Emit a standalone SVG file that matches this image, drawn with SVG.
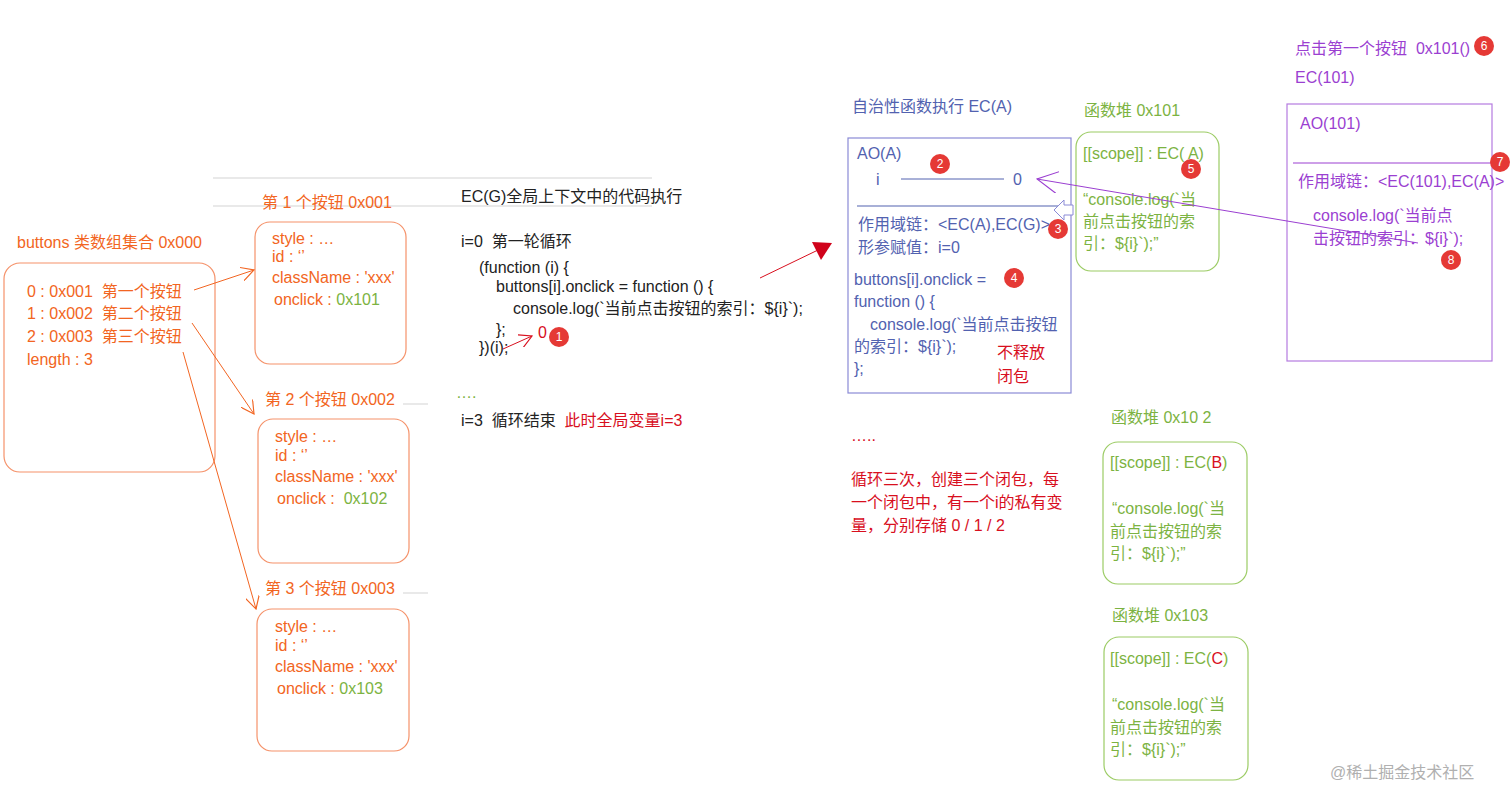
<svg xmlns="http://www.w3.org/2000/svg" width="1512" height="802" viewBox="0 0 1512 802">
<style>
text{font-family:"Liberation Sans","Noto Sans CJK SC",sans-serif;font-size:16px;white-space:pre}
.or{fill:#f26522}
.gr{fill:#7cb342}
.bl{fill:#5262b0}
.pu{fill:#9b3fd1}
.rd{fill:#d80f1e}
.bk{fill:#222}
.obox{fill:none;stroke:#f5926a;stroke-width:1.2}
.gbox{fill:none;stroke:#9ccc65;stroke-width:1.2}
.badge circle{fill:#e53935}
.badge text{fill:#fff;font-size:12px;text-anchor:middle}
.ol{stroke:#f26522;stroke-width:1;fill:none}
</style>
<defs>
<marker id="oa" viewBox="0 0 12 12" refX="11" refY="6" markerWidth="14" markerHeight="14" markerUnits="userSpaceOnUse" orient="auto"><path d="M0,0 L11,6 L0,12" fill="none" stroke="#f26522" stroke-width="1"/></marker>
<marker id="ra" viewBox="0 0 12 12" refX="11" refY="6" markerWidth="14" markerHeight="14" markerUnits="userSpaceOnUse" orient="auto"><path d="M0,0 L11,6 L0,12" fill="none" stroke="#d80f1e" stroke-width="1"/></marker>
<marker id="pa" viewBox="0 0 20 20" refX="19" refY="10" markerWidth="22" markerHeight="22" markerUnits="userSpaceOnUse" orient="auto"><path d="M0,0 L19,10 L0,20" fill="none" stroke="#9b3fd1" stroke-width="1"/></marker>
</defs>
<rect width="1512" height="802" fill="#fff"/>

<g id="guides" stroke="#e2e2e2" stroke-width="1.5">
<line x1="213" y1="178" x2="652" y2="178"/>
<line x1="213" y1="206" x2="652" y2="206"/>
<line x1="403" y1="404" x2="428" y2="404"/>
<line x1="403" y1="593" x2="428" y2="593"/>
</g>

<g id="buttons">
<text x="17" y="248" class="or">buttons 类数组集合 0x000</text>
<rect x="4" y="263" width="211" height="209" rx="16" class="obox"/>
<text x="27" y="297" class="or">0 : 0x001  第一个按钮</text>
<text x="27" y="319" class="or">1 : 0x002  第二个按钮</text>
<text x="27" y="342" class="or">2 : 0x003  第三个按钮</text>
<text x="27" y="365" class="or">length : 3</text>
</g>

<g id="btn1">
<text x="262" y="208" class="or">第 1 个按钮 0x001</text>
<rect x="255" y="222" width="151" height="142" rx="15" class="obox"/>
<text x="272" y="244" class="or">style : …</text>
<text x="272" y="262" class="or">id : ‘’</text>
<text x="272" y="283" class="or">className : 'xxx'</text>
<text x="274" y="305" class="or">onclick : <tspan class="gr">0x101</tspan></text>
</g>

<g id="btn2">
<text x="265" y="405" class="or">第 2 个按钮 0x002</text>
<rect x="258" y="419" width="151" height="144" rx="15" class="obox"/>
<text x="275" y="442" class="or">style : …</text>
<text x="275" y="461" class="or">id : ‘’</text>
<text x="275" y="482" class="or">className : 'xxx'</text>
<text x="277" y="504" class="or">onclick :  <tspan class="gr">0x102</tspan></text>
</g>

<g id="btn3">
<text x="265" y="594" class="or">第 3 个按钮 0x003</text>
<rect x="257" y="609" width="152" height="142" rx="15" class="obox"/>
<text x="275" y="632" class="or">style : …</text>
<text x="275" y="651" class="or">id : ‘’</text>
<text x="275" y="672" class="or">className : 'xxx'</text>
<text x="277" y="694" class="or">onclick : <tspan class="gr">0x103</tspan></text>
</g>

<g id="code">
<text x="461" y="202" class="bk">EC(G)全局上下文中的代码执行</text>
<text x="461" y="247" class="bk">i=0  第一轮循环</text>
<text x="479" y="273" class="bk">(function (i) {</text>
<text x="496" y="292" class="bk">buttons[i].onclick = function () {</text>
<text x="513" y="314" class="bk">console.log(`当前点击按钮的索引：${i}`);</text>
<text x="496" y="335" class="bk">};</text>
<text x="479" y="353" class="bk">})(i);</text>
<text x="538" y="338" class="rd">0</text>
<g class="badge"><circle cx="559" cy="337" r="10"/><text x="559" y="341">1</text></g>
<text x="456" y="398" fill="#7cb342" font-size="13">….</text>
<text x="461" y="426" class="bk">i=3  循环结束  <tspan class="rd">此时全局变量i=3</tspan></text>
</g>

<g id="ecA">
<text x="852" y="112" class="bl">自治性函数执行 EC(A)</text>
<rect x="848" y="138" width="223" height="255" fill="none" stroke="#8a8ad6" stroke-width="1.2"/>
<text x="857" y="159" class="bl">AO(A)</text>
<text x="876" y="185" class="bl">i</text>
<line x1="901" y1="179" x2="1004" y2="179" stroke="#5262b0" stroke-width="1"/>
<text x="1013" y="185" class="bl">0</text>
<g class="badge"><circle cx="940" cy="164" r="10"/><text x="940" y="168">2</text></g>
<line x1="857" y1="206" x2="1071" y2="206" stroke="#5262b0" stroke-width="1.2"/>
<text x="858" y="230" class="bl">作用域链：&lt;EC(A),EC(G)&gt;</text>
<g class="badge"><circle cx="1058" cy="229" r="10"/><text x="1058" y="233">3</text></g>
<text x="858" y="253" class="bl">形参赋值：i=0</text>
<text x="854" y="285" class="bl">buttons[i].onclick =</text>
<g class="badge"><circle cx="1014" cy="278" r="10"/><text x="1014" y="282">4</text></g>
<text x="854" y="307" class="bl">function () {</text>
<text x="870" y="330" class="bl">console.log(`当前点击按钮</text>
<text x="854" y="352" class="bl">的索引：${i}`);</text>
<text x="854" y="374" class="bl">};</text>
<text x="997" y="358" class="rd" font-size="17">不释放</text>
<text x="997" y="382" class="rd" font-size="17">闭包</text>
<polygon points="1054,210 1064,200 1064,205 1073,205 1073,215 1064,215 1064,220" fill="#fff" stroke="#8a8ad6" stroke-width="1"/>
</g>

<g id="heap101">
<text x="1084" y="116" class="gr">函数堆 0x101</text>
<rect x="1076" y="132" width="143" height="139" rx="15" class="gbox"/>
<text x="1083" y="159" class="gr">[[scope]] : EC( A)</text>
<text x="1083" y="205" class="gr">“console.log(`当</text>
<text x="1083" y="227" class="gr">前点击按钮的索</text>
<text x="1083" y="249" class="gr">引：${i}`);”</text>
<g class="badge"><circle cx="1191" cy="169" r="10"/><text x="1191" y="173">5</text></g>
</g>

<g id="ec101">
<text x="1295" y="54" class="pu">点击第一个按钮  0x101()</text>
<g class="badge"><circle cx="1484" cy="46" r="10"/><text x="1484" y="50">6</text></g>
<text x="1295" y="83" class="pu">EC(101)</text>
<rect x="1287" y="104" width="205" height="257" fill="none" stroke="#b57bdf" stroke-width="1.2"/>
<text x="1300" y="129" class="pu">AO(101)</text>
<line x1="1293" y1="163" x2="1492" y2="163" stroke="#9b3fd1" stroke-width="1"/>
<g class="badge"><circle cx="1500" cy="162" r="10"/><text x="1500" y="166">7</text></g>
<text x="1298" y="187" class="pu" font-size="15.6">作用域链：&lt;EC(101),EC(A)&gt;</text>
<text x="1313" y="221" class="pu">console.log(`当前点</text>
<text x="1313" y="244" class="pu">击按钮的索引：${i}`);</text>
<g class="badge"><circle cx="1451" cy="260" r="10"/><text x="1451" y="264">8</text></g>
</g>

<g id="note">
<text x="851" y="441" class="rd" font-size="13">…..</text>
<text x="851" y="485" class="rd">循环三次，创建三个闭包，每</text>
<text x="851" y="508" class="rd">一个闭包中，有一个i的私有变</text>
<text x="851" y="531" class="rd">量，分别存储 0 / 1 / 2</text>
</g>

<g id="heap102">
<text x="1111" y="423" class="gr">函数堆 0x10 2</text>
<rect x="1103" y="442" width="144" height="142" rx="15" class="gbox"/>
<text x="1110" y="468" class="gr">[[scope]] : EC(<tspan class="rd">B</tspan>)</text>
<text x="1112" y="514" class="gr">“console.log(`当</text>
<text x="1110" y="537" class="gr">前点击按钮的索</text>
<text x="1110" y="559" class="gr">引：${i}`);”</text>
</g>

<g id="heap103">
<text x="1112" y="621" class="gr">函数堆 0x103</text>
<rect x="1104" y="637" width="144" height="143" rx="15" class="gbox"/>
<text x="1110" y="664" class="gr">[[scope]] : EC(<tspan class="rd">C</tspan>)</text>
<text x="1112" y="710" class="gr">“console.log(`当</text>
<text x="1110" y="733" class="gr">前点击按钮的索</text>
<text x="1110" y="755" class="gr">引：${i}`);”</text>
</g>

<g id="connectors">
<line x1="194" y1="290" x2="254" y2="270" class="ol" marker-end="url(#oa)"/>
<line x1="192" y1="323" x2="254" y2="414" class="ol" marker-end="url(#oa)"/>
<line x1="183" y1="352" x2="256" y2="609" class="ol" marker-end="url(#oa)"/>
<line x1="503" y1="349" x2="532" y2="336" stroke="#d80f1e" stroke-width="1" marker-end="url(#ra)"/>
<line x1="760" y1="278" x2="818" y2="250" stroke="#d80f1e" stroke-width="1"/>
<polygon points="812,242 832,243 821,260" fill="#d0021b"/>
<line x1="1418" y1="243" x2="1037" y2="179" stroke="#9b3fd1" stroke-width="1" marker-end="url(#pa)"/>
</g>

<text x="1330" y="778" fill="#b0b0b0" font-size="16">@稀土掘金技术社区</text>
</svg>
